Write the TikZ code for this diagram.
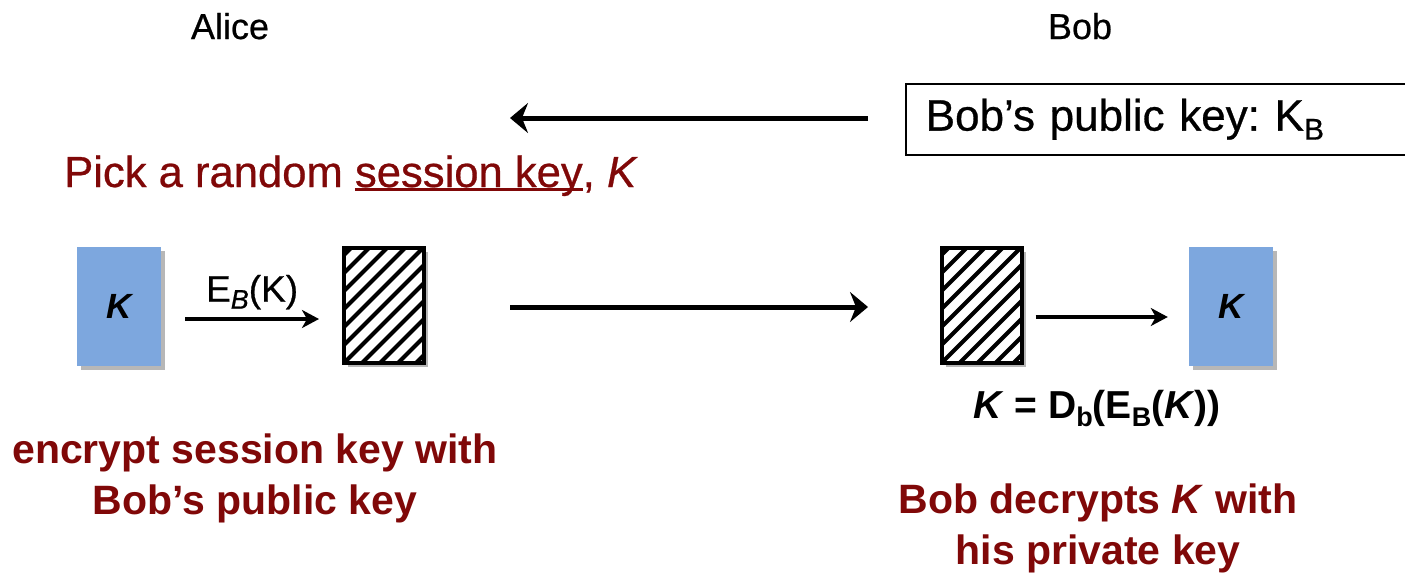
\documentclass[tikz,border=0pt]{standalone}
\usepackage{fontspec}
\setmainfont{Liberation Sans}
\newfontfamily\medfont{Liberation Sans}[FakeBold=0.6]
\usetikzlibrary{arrows.meta,shadows}
\definecolor{dred}{RGB}{128,8,8}
\definecolor{kblue}{RGB}{125,167,222}
\newcommand\myul[1]{\setbox0\hbox{#1}\rlap{\rule[-3.5pt]{\wd0}{2.2pt}}\box0}
\newcommand\mysub[3]{\raisebox{-#1}{\fontsize{#2}{#2}\selectfont #3}}
\frenchspacing
\begin{document}
\begin{tikzpicture}[x=1pt,y=-1pt,
  shad/.style={drop shadow={shadow xshift=4pt,shadow yshift=-4pt,opacity=0.4,fill=black!70}},
  keybox/.style={shad,fill=kblue,minimum width=84pt,minimum height=119pt,inner sep=0pt,
     font=\fontsize{35}{35}\selectfont\bfseries\itshape},
  hatchbox/.style={shad,fill=white,draw=black,line width=4pt,minimum width=80pt,minimum height=115pt,inner sep=0pt,
     path picture={\foreach \i in {-9,...,6}
       \draw[line width=4pt] ([xshift=\i*18pt]path picture bounding box.south west) -- ++(170,-170);}},
  head/.style={anchor=base,inner sep=0pt,font=\fontsize{36}{36}\selectfont\medfont},
  redcap/.style={anchor=base,inner sep=0pt,text=dred,font=\fontsize{41}{41}\selectfont\bfseries},
  thinarr/.style={line width=3.2pt,-{Stealth[length=17pt,width=18pt,inset=5pt]}},
  thickarr/.style={line width=5pt,-{Stealth[length=18pt,width=30pt,inset=6pt]}}
]
\useasboundingbox (0,0) rectangle (1405,573);

% headers
\node[head] (alice) at (230,39) {Alice};
\node[head] (bob) at (1080,39) {Bob};

% public key box
\node[draw,line width=1.5pt,anchor=north west,minimum width=530pt,minimum height=71pt,
      text width=490pt,inner xsep=20pt,align=left,font=\fontsize{44}{44}\selectfont\medfont]
      (pk) at (905,83) {Bob’s public key: K\mysub{9pt}{30}{B}};
\coordinate (pkarr) at (868,118);
\coordinate (pkend) at (510,118);
\draw[thickarr] (pkarr) -- (pkend);

% pick text
\node[anchor=base west,inner sep=0pt,text=dred,font=\fontsize{43.6}{43.6}\selectfont\medfont]
  (pick) at (64,187) {Pick a random \myul{session key}, \textit{K}};

% boxes
\node[keybox] (ka) at (119,306.5) {K};
\node[hatchbox] (ea) at (384,305.5) {};
\node[hatchbox] (eb) at (981.5,305.5) {};
\node[keybox] (kb) at (1231,306.5) {K};

% arrows
\draw[thinarr] ([xshift=24pt,yshift=-12.5pt]ka.east) -- node[above=8pt,inner sep=0pt,font=\fontsize{37}{37}\selectfont\medfont] (eblab) {E\mysub{7pt}{27}{\textit{B}}(K)} ([xshift=-23pt,yshift=-13.5pt]ea.west);
\coordinate (bigs) at (510,307);
\coordinate (bige) at (868,307);
\draw[thickarr] (bigs) -- (bige);
\draw[thinarr] ([xshift=12pt,yshift=-11.5pt]eb.east) -- ([xshift=-21pt,yshift=-10.5pt]kb.west);

% formula
\node[anchor=base,inner sep=0pt,font=\fontsize{39}{39}\selectfont\bfseries]
  (form) at (1097,418) {\textit{K} = D\mysub{8pt}{27}{b}(E\mysub{8pt}{27}{B}(\textit{K}))};

% captions
\node[redcap] (c1) at (255,463) {encrypt session key with};
\node[redcap] (c2) at (255,514) {Bob’s public key};
\node[redcap] (c3) at (1098,513) {Bob decrypts \textit{K} with};
\node[redcap] (c4) at (1098,564) {his private key};
\end{tikzpicture}
\end{document}
